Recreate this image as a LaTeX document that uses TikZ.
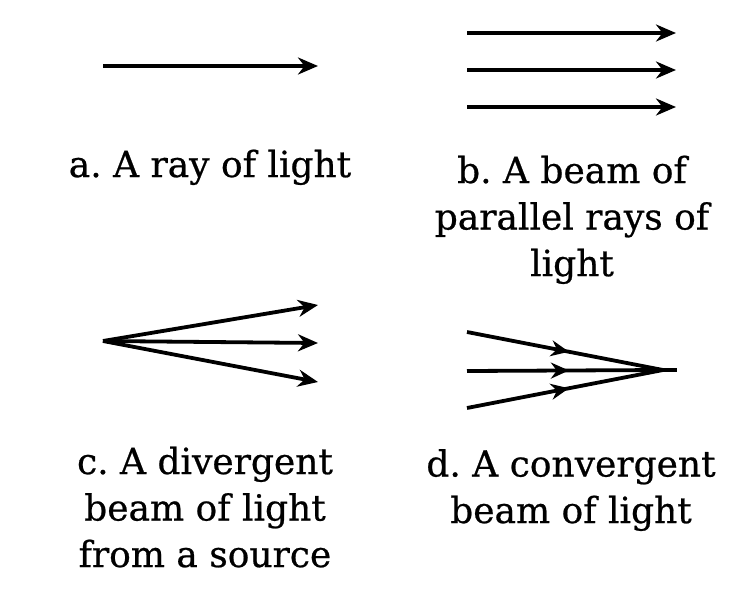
\documentclass[tikz,border=0pt]{standalone}
\usepackage{fontspec}
\setmainfont{DejaVu Serif}
\newfontfamily\lblfont[FakeBold=0.6]{DejaVu Serif}
\usetikzlibrary{arrows.meta,decorations.markings}
\begin{document}
\frenchspacing
\begin{tikzpicture}[x=1pt,y=-1pt,
  ray/.style={line width=3.8pt,-{Stealth[length=20pt,width=17pt]}},
  plain/.style={line width=3.8pt},
  midarrow/.style={line width=3.8pt,postaction={decorate},
    decoration={markings,mark=at position #1 with {\arrow{Stealth[length=18pt,width=16pt]}}}},
  lbl/.style={font=\lblfont\fontsize{36}{46.5}\selectfont,align=center,anchor=base,inner sep=0pt}]
\useasboundingbox (0,0) rectangle (740,598);
% a
\coordinate (a1) at (103,66);
\coordinate (a2) at (318,66);
\draw[ray] (a1) -- (a2);
\node[lbl] (la) at (210,177) {a. A ray of light};
% b
\coordinate (b1s) at (467,33);  \coordinate (b1e) at (676,33);
\coordinate (b2s) at (467,70);  \coordinate (b2e) at (676,70);
\coordinate (b3s) at (467,107); \coordinate (b3e) at (676,107);
\draw[ray] (b1s) -- (b1e);
\draw[ray] (b2s) -- (b2e);
\draw[ray] (b3s) -- (b3e);
\node[lbl] (lb) at (572,276) {b. A beam of\\parallel rays of\\light};
% c
\coordinate (src) at (103,341);
\coordinate (c1) at (318,305);
\coordinate (c2) at (318,343);
\coordinate (c3) at (318,382);
\draw[ray] (src) -- (c1);
\draw[ray] (src) -- (c2);
\draw[ray] (src) -- (c3);
\node[lbl] (lc) at (205,567) {c. A divergent\\beam of light\\from a source};
% d
\coordinate (d1) at (467,332);
\coordinate (d2) at (467,371);
\coordinate (d3) at (467,408);
\coordinate (foc) at (663,370);
\coordinate (dend) at (677,370);
\draw[midarrow=0.52] (d1) -- (foc);
\draw[midarrow=0.52] (d2) -- (foc);
\draw[midarrow=0.52] (d3) -- (foc);
\draw[plain] (foc) -- (dend);
\node[lbl] (ld) at (571,523) {d. A convergent\\beam of light};
\end{tikzpicture}
\end{document}
